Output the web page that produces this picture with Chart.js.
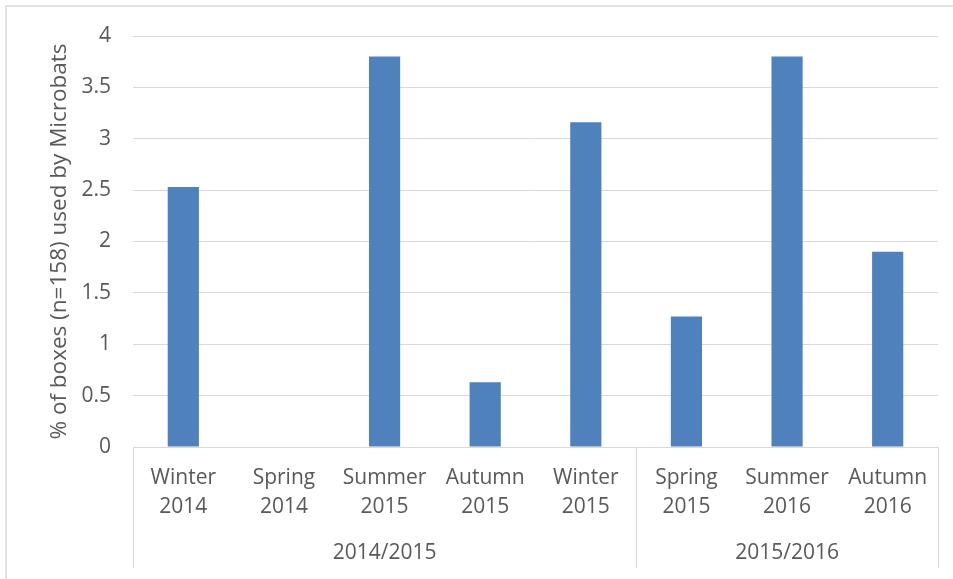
<!DOCTYPE html>
<html>
<head>
<meta charset="utf-8">
<script src="https://cdn.jsdelivr.net/npm/chart.js@4"></script>
<style>
  html, body { margin: 0; padding: 0; background: #fff; }
  #wrap { width: 953px; height: 579px; }
</style>
</head>
<body>
<div id="wrap"><canvas id="batChart" width="953" height="579"></canvas></div>
<script>
// categories (two lines each) and the outer grouping
const seasons = [
  ['Winter', '2014'], ['Spring', '2014'], ['Summer', '2015'], ['Autumn', '2015'],
  ['Winter', '2015'], ['Spring', '2015'], ['Summer', '2016'], ['Autumn', '2016']
];
const pctUsed = [2.53, 0, 3.80, 0.63, 3.16, 1.27, 3.80, 1.90];
const years = ['2014/2015', '2015/2016'];
const yearSizes = [5, 3];
const yTicks = [0, 0.5, 1, 1.5, 2, 2.5, 3, 3.5, 4];

const FONT = "'Open Sans', sans-serif";
const TXT = '#595959';
const LINE = '#d9d9d9';

// outer frame, group separators and group labels
const groupAxis = {
  id: 'groupAxis',
  beforeDraw(chart) {
    const c = chart.ctx;
    c.save();
    c.strokeStyle = LINE;
    c.lineWidth = 1.5;
    c.strokeRect(6, 6, 1000, 1000);
    c.restore();
  },
  afterDraw(chart) {
    const c = chart.ctx;
    const x = chart.scales.x;
    const area = chart.chartArea;
    const bottom = 568;
    const edge = i => {
      if (i <= 0) return area.left;
      if (i >= seasons.length) return area.right;
      return (x.getPixelForValue(i - 1) + x.getPixelForValue(i)) / 2;
    };
    c.save();
    c.strokeStyle = LINE;
    c.lineWidth = 1;
    c.fillStyle = TXT;
    c.font = '21px ' + FONT;
    c.textAlign = 'center';
    c.textBaseline = 'middle';
    let start = 0;
    years.forEach((g, k) => {
      const end = start + yearSizes[k];
      const x0 = edge(start), x1 = edge(end);
      c.beginPath();
      c.moveTo(Math.round(x0) + 0.5, area.bottom);
      c.lineTo(Math.round(x0) + 0.5, bottom);
      c.moveTo(Math.round(x1) + 0.5, area.bottom);
      c.lineTo(Math.round(x1) + 0.5, bottom);
      c.stroke();
      c.fillText(g, (x0 + x1) / 2, 553);
      start = end;
    });
    c.restore();
  }
};

new Chart(document.getElementById('batChart'), {
  type: 'bar',
  data: {
    labels: seasons,
    datasets: [{
      data: pctUsed,
      backgroundColor: '#4f81bd',
      categoryPercentage: 1,
      barPercentage: 0.31
    }]
  },
  options: {
    responsive: false,
    animation: false,
    layout: { padding: { left: 0, top: 36, right: 15, bottom: 0 } },
    plugins: { legend: { display: false }, tooltip: { enabled: false } },
    scales: {
      x: {
        grid: { display: false, drawTicks: false },
        border: { color: LINE, width: 1 },
        ticks: { color: TXT, font: { family: FONT, size: 21, lineHeight: 1.36 }, padding: 17, maxRotation: 0, autoSkip: false },
        afterFit(s) { s.height = 132; }
      },
      y: {
        min: 0,
        max: 4,
        afterBuildTicks(s) { s.ticks = yTicks.map(v => ({ value: v })); },
        grid: { color: LINE, lineWidth: 1, drawTicks: false },
        border: { display: false },
        ticks: { color: TXT, font: { family: FONT, size: 21 }, padding: 22, callback: v => String(v) },
        title: {
          display: true,
          text: '% of boxes (n=158) used by Microbats',
          color: TXT,
          font: { family: FONT, size: 22.5 },
          padding: { top: 46, bottom: 0 }
        },
        afterFit(s) { s.width = 133; }
      }
    }
  },
  plugins: [groupAxis]
});
</script>
</body>
</html>
